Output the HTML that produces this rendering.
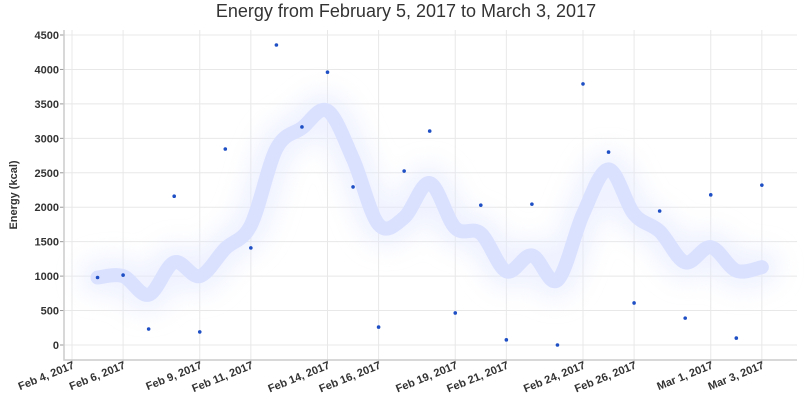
<!DOCTYPE html>
<html><head><meta charset="utf-8"><style>
body{margin:0;background:#fff;}
svg{display:block;font-family:"Liberation Sans",sans-serif;}
</style></head><body>
<svg width="804" height="401">
<defs><filter id="glow" x="-20%" y="-50%" width="140%" height="200%"><feGaussianBlur stdDeviation="12"/></filter></defs>
<text x="406" y="17" text-anchor="middle" font-size="18" fill="#333">Energy from February 5, 2017 to March 3, 2017</text>
<text transform="translate(17,195) rotate(-90)" text-anchor="middle" font-size="11" font-weight="bold" fill="#333">Energy (kcal)</text>
<g id="grid"></g><g id="trend"></g><g id="pts"></g><g id="axes"></g>
</svg>
<script>
const values=[980,1015,232,2160,190,2845,1410,4355,3165,3960,2295,260,2525,3105,465,2030,75,2045,0,3790,2800,610,1945,390,2180,100,2320];
const trend=[980,1000,730,1200,1000,1400,1740,2850,3150,3400,2700,1750,1850,2350,1700,1620,1070,1300,940,1900,2550,1900,1650,1200,1420,1080,1130];
const yTicks=[0,500,1000,1500,2000,2500,3000,3500,4000,4500];
const labelDays=[0,2,5,7,10,12,15,17,20,22,25,27];
const xTickLabels=["Feb 4, 2017","Feb 6, 2017","Feb 9, 2017","Feb 11, 2017","Feb 14, 2017","Feb 16, 2017","Feb 19, 2017","Feb 21, 2017","Feb 24, 2017","Feb 26, 2017","Mar 1, 2017","Mar 3, 2017"];
const NS="http://www.w3.org/2000/svg";
const L=64,R=797,T=30,B=360;
const xs=d=>72+d*25.55; // d = days since Feb 4
const ys=v=>345-v*310/4500;
function mk(t,a,p){const e=document.createElementNS(NS,t);for(const k in a)e.setAttribute(k,a[k]);p.appendChild(e);return e;}
const grid=document.getElementById('grid'),axes=document.getElementById('axes');
yTicks.forEach(v=>{
 const l=mk('line',{x1:L,x2:R,y1:ys(v),y2:ys(v),stroke:'#e8e8e8'},grid);
 
 
 const tk=mk('line',{x1:L-4,x2:L,y1:ys(v),y2:ys(v),stroke:'#999'},axes);
 
 
 const t=mk('text',{x:L-5,y:ys(v)+4,'text-anchor':'end','font-size':11,'font-weight':'bold',fill:'#333'},axes);
 t.textContent=v;
 
 
});
labelDays.forEach((d,i)=>{
 const x=xs(d);
 const l=mk('line',{x1:x,x2:x,y1:T,y2:B,stroke:'#e8e8e8'},grid);
 
 
 const tk=mk('line',{x1:x,x2:x,y1:B,y2:B+4,stroke:'#999'},axes);
 
 
 const t=mk('text',{transform:`translate(${x+3},${B+8}) rotate(-22)`,'text-anchor':'end','font-size':11,'font-weight':'bold',fill:'#333'},axes);
 t.textContent=xTickLabels[i];
 
 
});
const ax=mk('path',{d:`M${L},${T}V${B}H${R}`,fill:'none',stroke:'#ccc','stroke-width':1.5},axes);


const P=trend.map((v,i)=>[xs(i+1),ys(v)]);
let d=`M${P[0][0]},${P[0][1]}`;
for(let i=0;i<P.length-1;i++){const p0=P[Math.max(0,i-1)],p1=P[i],p2=P[i+1],p3=P[Math.min(P.length-1,i+2)];
 d+=` C${p1[0]+(p2[0]-p0[0])/6},${p1[1]+(p2[1]-p0[1])/6} ${p2[0]-(p3[0]-p1[0])/6},${p2[1]-(p3[1]-p1[1])/6} ${p2[0]},${p2[1]}`;}
const tg=document.getElementById('trend');
const g1=mk('path',{d,fill:'none',stroke:'#e4e9ff','stroke-width':36,'stroke-linecap':'round',filter:'url(#glow)',opacity:0.6},tg);


const g2=mk('path',{d,fill:'none',stroke:'#d9e1ff','stroke-width':14,'stroke-linecap':'round'},tg);


const pg=document.getElementById('pts');
values.forEach((v,i)=>{const c=mk('circle',{cx:xs(i+1),cy:ys(v),r:1.8,fill:'#1f4fc4'},pg);
 
 
});
</script>
</body></html>
